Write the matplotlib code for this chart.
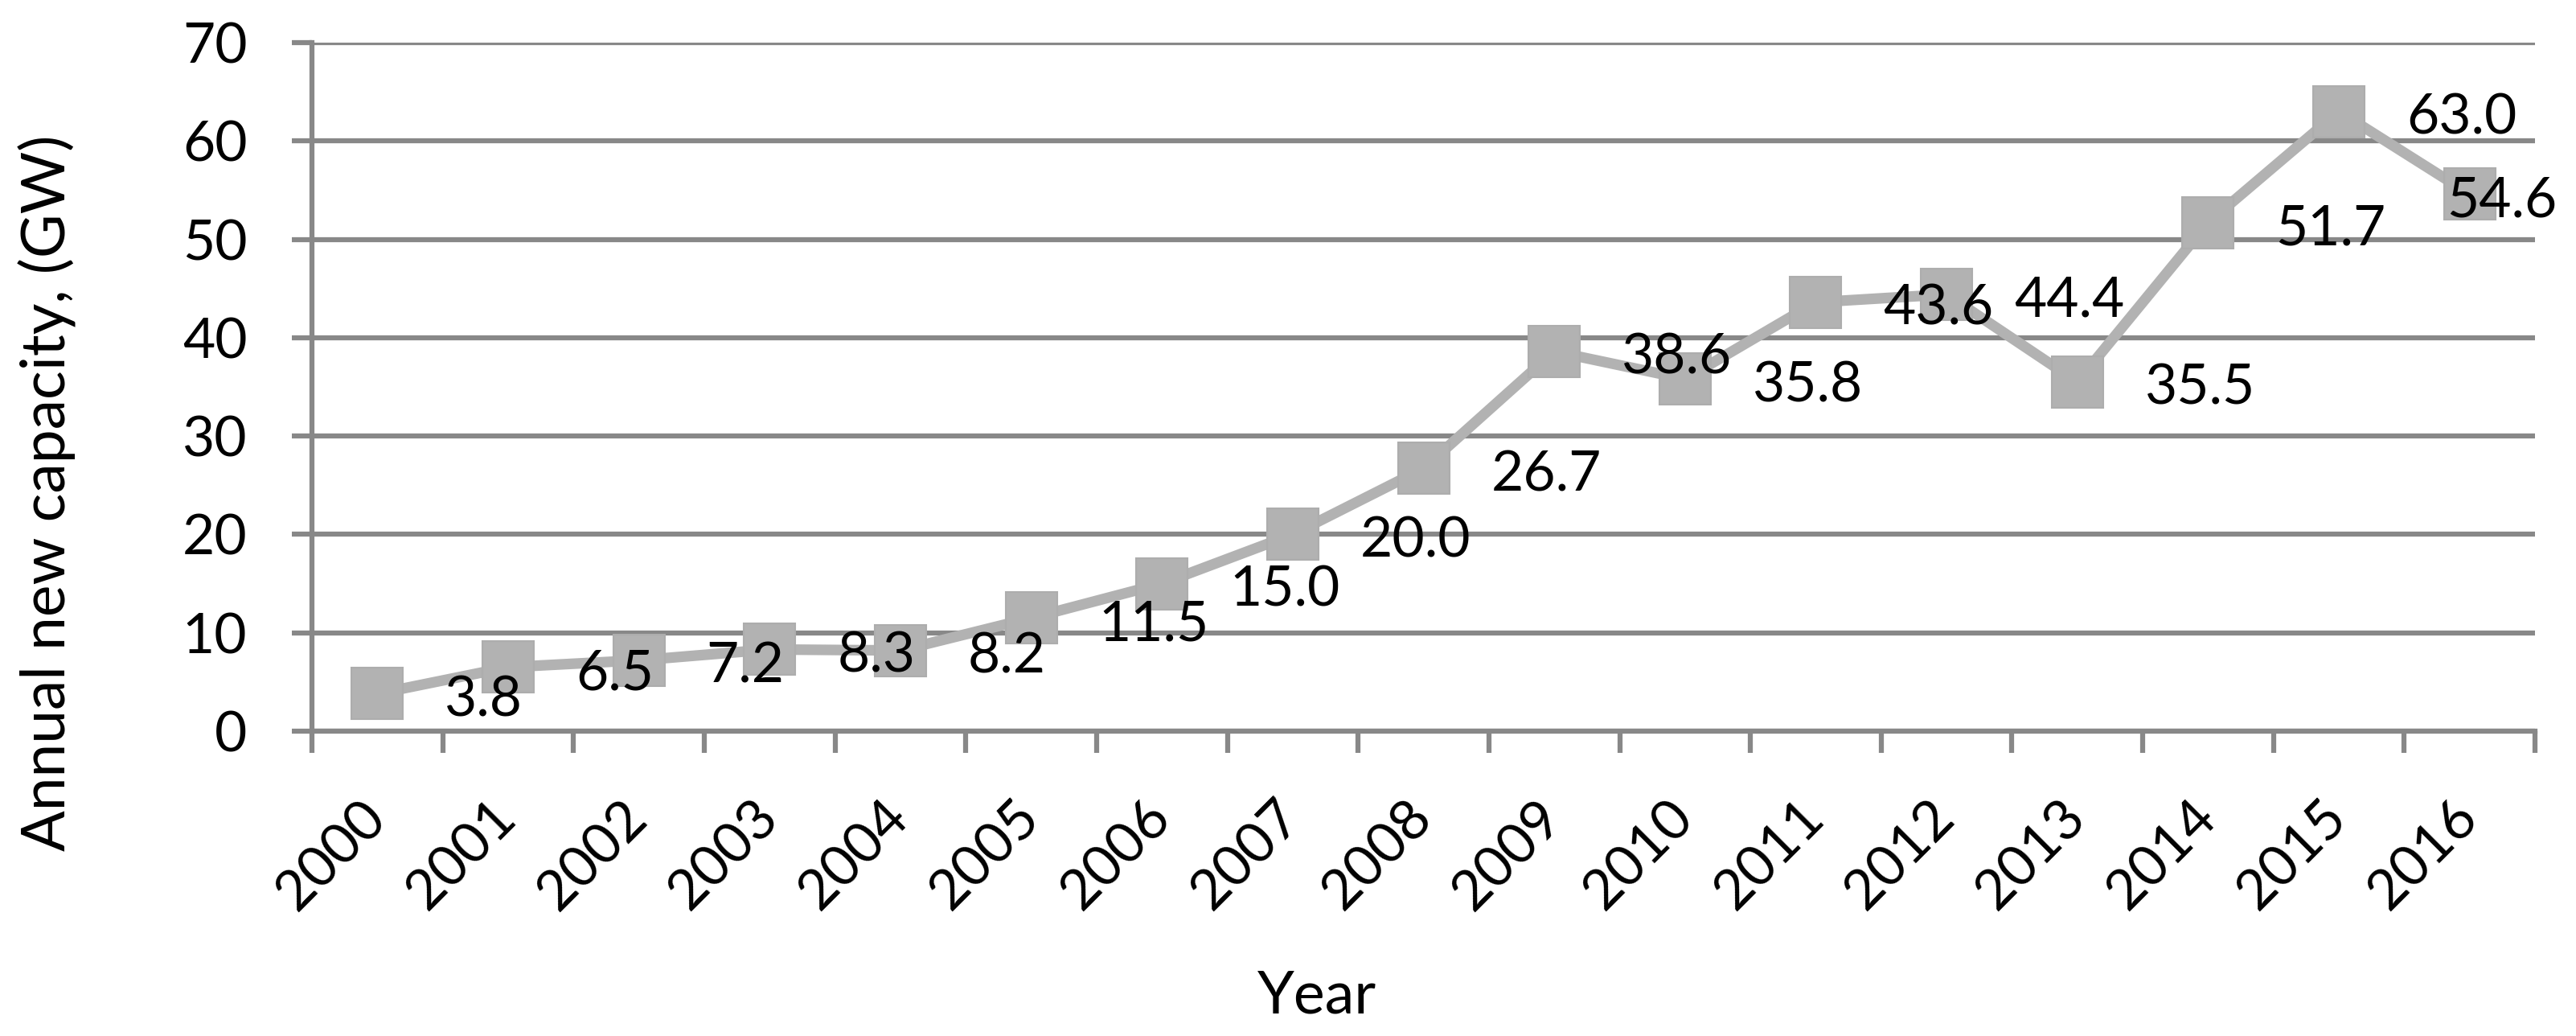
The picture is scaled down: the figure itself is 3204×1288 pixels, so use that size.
import matplotlib.pyplot as plt
from matplotlib.ticker import FixedLocator

years = [str(y) for y in range(2000, 2017)]
capacity = [3.8, 6.5, 7.2, 8.3, 8.2, 11.5, 15.0, 20.0, 26.7, 38.6,
            35.8, 43.6, 44.4, 35.5, 51.7, 63.0, 54.6]

plt.rcParams['font.family'] = ['Lato', 'DejaVu Sans']
grid_col = '#888888'
line_col = '#b2b2b2'

fig = plt.figure(figsize=(32.04, 12.88), dpi=100)
ax = fig.add_axes([0.1211, 0.2943, 0.863, 0.6646])

x = list(range(len(years)))
ax.plot(x, capacity, color=line_col, lw=9.5, marker='s', markersize=46,
        markerfacecolor=line_col, markeredgecolor='#adadad', markeredgewidth=1.5,
        zorder=3)

# excel style "right" data labels; the last one is pulled back inside the chart
for i, v in enumerate(capacity):
    dx = 84 if i < len(capacity) - 1 else -29
    ax.annotate(f"{v:.1f}", (i, v), xytext=(dx, -28),
                textcoords='offset pixels', ha='left', va='baseline',
                fontsize=50, color='black', zorder=4)

ax.set_xlim(-0.5, len(years) - 0.5)
ax.set_ylim(0, 70)
ax.set_yticks(range(0, 71, 10))
ax.set_xticks(x)
ax.set_xticklabels(years, rotation=45, ha='right', va='center',
                   rotation_mode='anchor', fontsize=50)
ax.xaxis.set_minor_locator(FixedLocator([i - 0.5 for i in range(len(years) + 1)]))
ax.tick_params(axis='x', which='major', length=0, pad=70)
ax.tick_params(axis='x', which='minor', length=19.5, width=4.5, color=grid_col)
ax.tick_params(axis='y', length=18, width=4.5, color=grid_col, pad=40, labelsize=50)

ax.grid(axis='y', color=grid_col, lw=4.5)
ax.set_axisbelow(True)
for s in ['top', 'right']:
    ax.spines[s].set_visible(False)
for s in ['left', 'bottom']:
    ax.spines[s].set_color(grid_col)
    ax.spines[s].set_linewidth(4.5)

ax.set_xlabel("Year", fontsize=53)
ax.set_ylabel("Annual new capacity, (GW)", fontsize=54)
ax.xaxis.set_label_coords(0.452, -0.346)
ax.yaxis.set_label_coords(-0.106, 0.346)

fig.savefig("out.png", dpi=100)
